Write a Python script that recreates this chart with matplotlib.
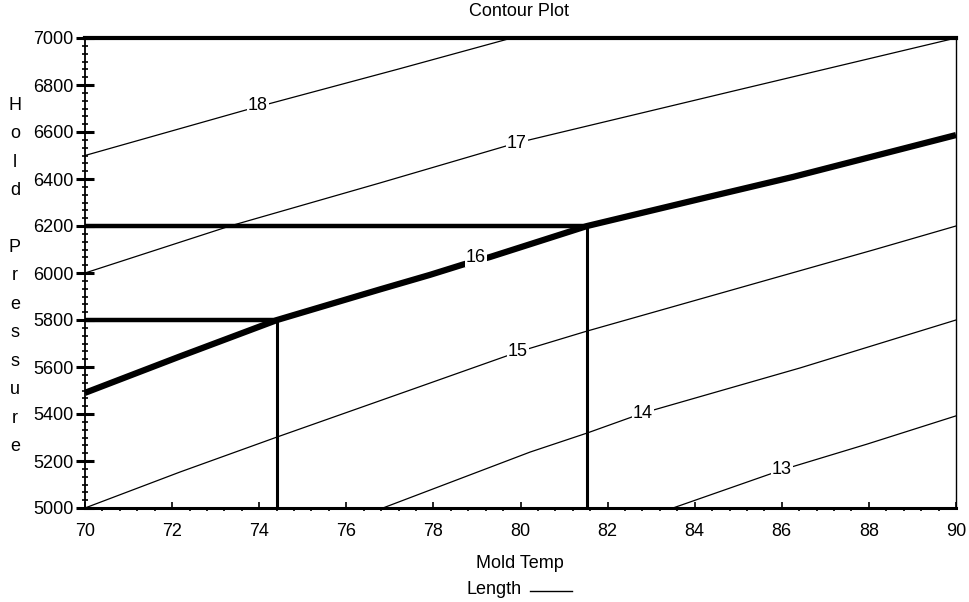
"""plot.py

Contour plot of part length against mold temperature and hold pressure,
with the two operating points marked off on the axes.
"""
import matplotlib
matplotlib.use('Agg')
from matplotlib import pyplot as plt
from matplotlib.ticker import MultipleLocator
from matplotlib.lines import Line2D

plt.rcParams['font.family'] = ['Liberation Sans', 'DejaVu Sans']
FS = 13


#
# Data
#

## Contour lines of Length (Mold Temp, Hold Pressure)
temp_18 = [70, 73.7, 77.2, 79.8]
press_18 = [6500, 6694, 6868, 7000]

temp_17 = [70, 73.33, 76.77, 79.9, 84.88, 90]
press_17 = [6000, 6200, 6383, 6553, 6774, 7000]

temp_16 = [70, 72.18, 74.41, 76.77, 77.92, 78.68, 79.3, 81.53, 84.12, 86.26, 90]
press_16 = [5490, 5645, 5800, 5930, 5992, 6036, 6068, 6200, 6315, 6409, 6587]

temp_15 = [70, 72.18, 74.41, 77.53, 79.94, 81.53, 85.66, 88.1, 90]
press_15 = [5000, 5153, 5302, 5506, 5664, 5753, 5970, 6098, 6200]

temp_14 = [76.84, 80.22, 81.53, 82.81, 86.42, 90]
press_14 = [5000, 5238, 5319, 5404, 5596, 5800]

temp_13 = [83.5, 86.0, 87.96, 90]
press_13 = [5000, 5162, 5272, 5392]

## Where the level labels sit
levels = [18, 17, 16, 15, 14, 13]
label_temp = [73.97, 79.92, 78.98, 79.94, 82.81, 86.0]
label_press = [6711, 6553, 6064, 5664, 5404, 5162]

## Operating points on the 16 contour
op_temp = [74.41, 81.53]
op_press = [5800, 6200]

x_ticks = [70, 72, 74, 76, 78, 80, 82, 84, 86, 88, 90]
y_ticks = [5000, 5200, 5400, 5600, 5800, 6000, 6200, 6400, 6600, 6800, 7000]

contours = {18: (temp_18, press_18),
            17: (temp_17, press_17),
            16: (temp_16, press_16),
            15: (temp_15, press_15),
            14: (temp_14, press_14),
            13: (temp_13, press_13)}


#
# Plot
#
fig = plt.figure(figsize=(9.69, 6.02), dpi=100)
ax = fig.add_axes([85/969., 1-508/602., 871/969., 470/602.])

for lev in levels:
    t, p = contours[lev]
    if lev == 16:
        ax.plot(t, p, '-', color='black', lw=4.5, solid_capstyle='butt', zorder=3)
    else:
        ax.plot(t, p, '-', color='black', lw=0.9, zorder=2)

for lev, lt, lp in zip(levels, label_temp, label_press):
    ax.text(lt, lp, str(lev), fontsize=FS, ha='center', va='center', zorder=5,
            bbox=dict(facecolor='white', edgecolor='none', pad=0.5))

## Operating point guides
for t, p in zip(op_temp, op_press):
    ax.plot([70, t], [p, p], '-', color='black', lw=3.2, solid_capstyle='butt', zorder=4)
    ax.plot([t, t], [5000, p], '-', color='black', lw=2.2, solid_capstyle='butt', zorder=4)

ax.set_xlim(70, 90)
ax.set_ylim(5000, 7000)
ax.set_xticks(x_ticks)
ax.set_yticks(y_ticks)
ax.xaxis.set_minor_locator(MultipleLocator(0.4))
ax.yaxis.set_minor_locator(MultipleLocator(200/6.))

ax.tick_params(axis='x', which='major', direction='in', length=4, width=1.2,
               pad=11, labelsize=FS)
ax.tick_params(axis='x', which='minor', direction='out', length=2, width=1.2)
ax.tick_params(axis='y', which='major', direction='inout', length=13, width=2.2,
               pad=2, labelsize=FS)
ax.tick_params(axis='y', which='minor', direction='inout', length=4, width=1.2)

ax.spines['top'].set_linewidth(3)
ax.spines['bottom'].set_linewidth(2.2)
ax.spines['left'].set_linewidth(1.3)
ax.spines['right'].set_linewidth(1)
for s in ax.spines.values():
    s.set_zorder(6)

## Titles and the stacked axis label
fig.text(519/969., 1-12/602., 'Contour Plot', fontsize=FS, ha='center', va='center')
fig.text(520/969., 1-563/602., 'Mold Temp', fontsize=FS, ha='center', va='center')
fig.text(15/969., 1-276/602., 'H\no\nl\nd\n\nP\nr\ne\ns\ns\nu\nr\ne', fontsize=FS,
         ha='center', va='center', multialignment='center', linespacing=1.88)

## Legend entry for the contour lines
fig.text(522/969., 1-590/602., 'Length', fontsize=FS, ha='right', va='center')
fig.lines.append(Line2D([530/969., 572/969.], [1-591/602., 1-591/602.],
                        transform=fig.transFigure, color='black', lw=1))

plt.savefig('out.png', dpi=100)
